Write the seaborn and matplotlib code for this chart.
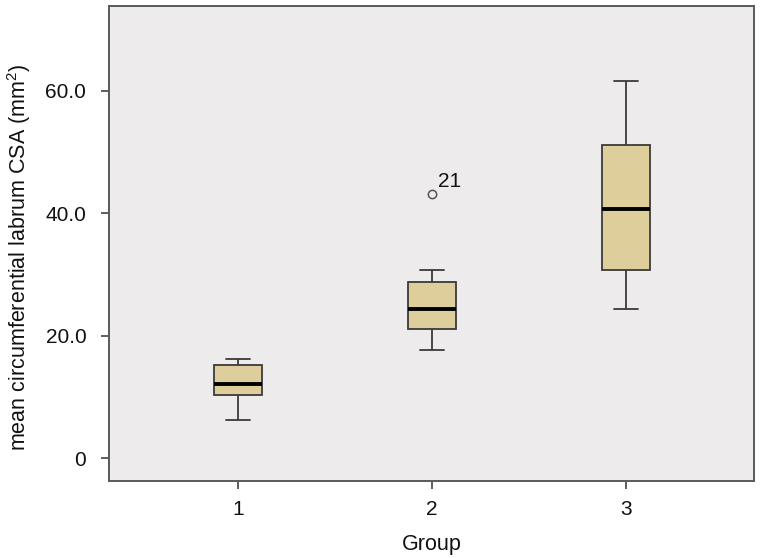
import pandas as pd
import matplotlib
matplotlib.use("Agg")
import matplotlib.pyplot as plt
import seaborn as sns

# valores (mm2), 9 casos por grupo
group_1 = [6.2, 9.0, 10.3, 11.0, 12.1, 13.5, 15.2, 15.8, 16.2]
group_2 = [17.6, 19.8, 21.1, 22.8, 24.4, 26.5, 28.7, 30.7, 43.1]
group_3 = [24.4, 28.0, 30.8, 36.0, 40.7, 46.0, 51.2, 57.0, 61.6]
group_labels = ["1", "2", "3"]
outlier_case = "21"
outlier_group = "2"
outlier_value = 43.1
y_ticks = [0, 20, 40, 60]
y_tick_labels = ["0", "20.0", "40.0", "60.0"]

def main():
    sns.set_theme(style="ticks")
    plt.rcParams['font.family'] = ['Liberation Sans', 'DejaVu Sans']
    plt.rcParams['mathtext.fontset'] = 'custom'
    plt.rcParams['mathtext.rm'] = 'Liberation Sans'
    plt.rcParams['mathtext.it'] = 'Liberation Sans'

    rows = []
    for label, vals in zip(group_labels, [group_1, group_2, group_3]):
        for v in vals:
            rows.append({"Group": label, "csa": v})
    df = pd.DataFrame(rows)

    fig = plt.figure(figsize=(7.61, 5.58), dpi=100)
    ax = fig.add_axes([0.1432, 0.138, 0.8476, 0.851])
    ax.set_facecolor("#EDEBEC")

    sns.boxplot(data=df, x="Group", y="csa", order=group_labels, ax=ax,
                color="#DECE9C", saturation=1, width=0.25, linecolor="#3a3a3a",
                linewidth=1.3,
                medianprops=dict(color="black", linewidth=2.8),
                flierprops=dict(marker="o", markersize=6, markerfacecolor="none",
                                markeredgecolor="#555555", markeredgewidth=1.1))

    # etiqueta del caso atipico
    ax.annotate(outlier_case, xy=(group_labels.index(outlier_group), outlier_value),
                xytext=(6, 13), textcoords="offset pixels",
                ha="left", va="center", fontsize=15, color="#111111")

    ax.set_ylim(-3.7, 73.8)
    ax.set_xlim(-0.665, 2.66)
    ax.set_yticks(y_ticks)
    ax.set_yticklabels(y_tick_labels)
    ax.tick_params(axis="both", labelsize=15, length=5.8, width=1.1,
                   color="#333333", labelcolor="#111111")
    ax.tick_params(axis="y", pad=10.5)
    ax.tick_params(axis="x", pad=8)
    ax.set_xlabel("Group", fontsize=15.5, color="#111111", labelpad=11)
    ax.set_ylabel(r"mean circumferential labrum CSA (mm$^2$)", fontsize=15.5,
                  color="#111111", labelpad=9)
    ax.yaxis.label.set_y(0.472)
    for s in ax.spines.values():
        s.set_visible(True)
        s.set_color("#5a5a5a")
        s.set_linewidth(1.4)

    fig.savefig("out.png", dpi=100)
    plt.close(fig)

if __name__ == "__main__":
    main()
